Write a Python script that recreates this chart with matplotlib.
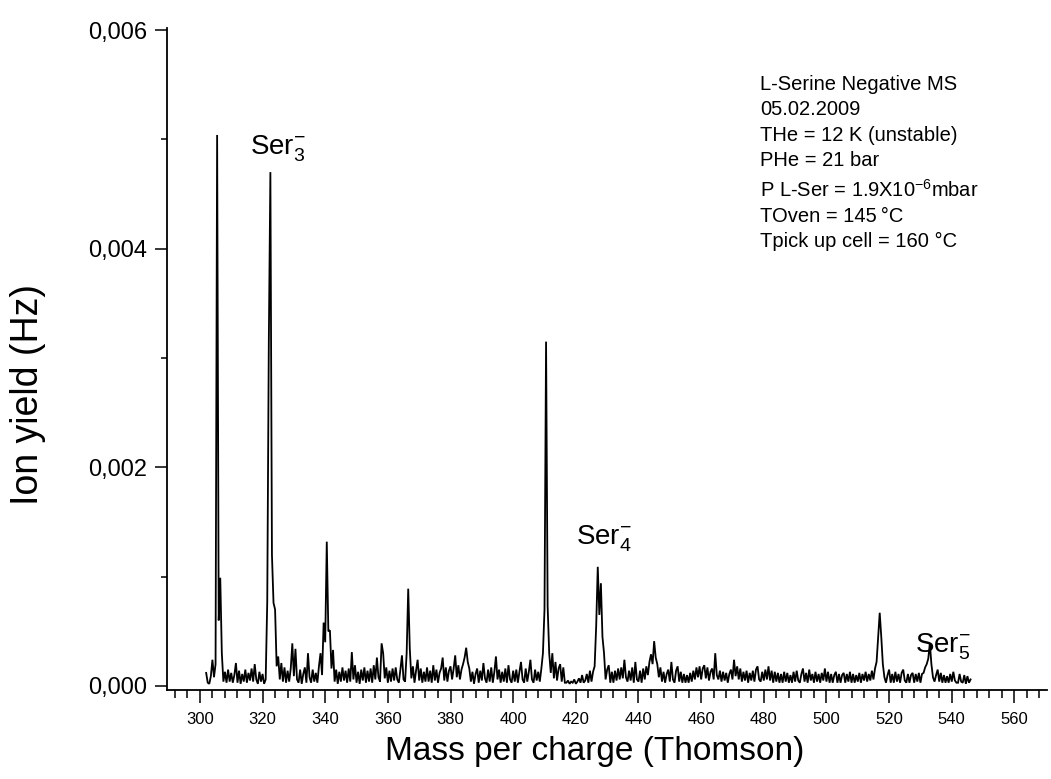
import numpy as np
import matplotlib
matplotlib.use("Agg")
import matplotlib.pyplot as plt
from matplotlib.ticker import MultipleLocator, FuncFormatter

plt.rcParams["font.family"] = ["Liberation Sans", "DejaVu Sans"]
plt.rcParams["mathtext.fontset"] = "custom"
plt.rcParams["mathtext.rm"] = "Liberation Sans"
plt.rcParams["mathtext.it"] = "Liberation Sans:italic"
plt.rcParams["mathtext.bf"] = "Liberation Sans:bold"

# Spectrum sampling: m/z grid start and step (Thomson)
MZ_START = 302.0
MZ_STEP = 0.5
YIELD_UNIT = 1e-4  # values below are in units of 1e-4 Hz

# Ion yield, one row per 5 Th
yield_e4 = [
    1.2, 0.3, 0.2, 0.9, 2.4, 0.8, 2.0, 50.4, 6.0, 9.9,      # 302
    3.0, 0.4, 1.3, 0.3, 1.5, 0.4, 1.2, 0.3, 1.0, 2.1,       # 307
    0.3, 1.4, 0.2, 1.1, 0.4, 1.5, 0.3, 1.2, 0.5, 1.6,       # 312
    0.4, 2.0, 0.6, 0.2, 1.3, 0.4, 1.1, 0.2, 0.6, 7.7,       # 317
    31.5, 47.0, 12.0, 7.6, 7.0, 1.8, 2.7, 0.6, 2.1, 0.4,    # 322
    1.7, 0.3, 1.4, 0.4, 1.6, 3.9, 0.9, 3.4, 0.6, 0.3,       # 327
    1.5, 0.2, 1.1, 1.7, 0.3, 3.0, 0.8, 0.3, 1.5, 0.4,       # 332
    1.2, 0.3, 1.8, 3.0, 1.0, 5.8, 4.0, 13.2, 5.0, 5.1,      # 337
    1.6, 3.3, 0.4, 1.5, 0.2, 1.3, 0.4, 1.7, 0.5, 1.4,       # 342
    0.3, 1.6, 0.4, 3.1, 0.6, 1.9, 0.3, 1.3, 0.2, 1.5,       # 347
    0.5, 1.7, 0.3, 1.4, 0.4, 1.6, 0.3, 1.9, 0.6, 2.6,       # 352
    0.8, 0.4, 3.9, 3.0, 0.7, 1.7, 0.3, 1.4, 0.4, 1.6,       # 357
    0.5, 1.7, 0.6, 0.3, 1.5, 2.8, 0.6, 0.4, 3.0, 8.9,       # 362
    3.4, 0.7, 1.8, 0.3, 1.4, 2.4, 0.5, 1.6, 0.3, 1.3,       # 367
    0.4, 1.7, 0.4, 1.4, 0.3, 1.9, 0.5, 1.5, 0.3, 1.2,       # 372
    1.6, 2.6, 0.5, 1.7, 0.4, 1.4, 1.8, 0.6, 1.6, 2.8,       # 377
    0.8, 1.9, 0.6, 1.5, 2.0, 2.6, 3.5, 2.2, 1.6, 0.4,       # 382
    1.3, 0.2, 1.1, 1.6, 0.3, 1.4, 0.5, 2.1, 0.7, 0.3,       # 387
    1.5, 0.4, 1.7, 0.3, 1.3, 2.7, 0.6, 1.5, 0.3, 1.3,       # 392
    0.4, 1.6, 0.3, 1.9, 0.6, 0.3, 1.4, 0.4, 1.5, 0.3,       # 397
    1.3, 2.2, 0.6, 0.3, 1.6, 0.4, 1.3, 2.4, 0.6, 0.3,       # 402
    1.5, 0.5, 1.3, 0.4, 1.6, 3.0, 7.0, 31.5, 7.3, 3.0,      # 407
    1.2, 3.0, 0.7, 2.2, 0.5, 1.6, 2.0, 0.4, 1.7, 0.3,       # 412
    0.3, 0.5, 0.2, 0.4, 0.3, 0.6, 0.2, 0.4, 0.7, 0.3,       # 417
    1.0, 0.3, 0.5, 1.1, 0.3, 1.4, 0.4, 1.3, 1.8, 5.5,       # 422
    10.9, 6.5, 9.4, 4.5, 3.0, 0.6, 1.5, 1.9, 0.3, 1.3,      # 427
    0.3, 1.4, 0.5, 1.6, 0.6, 1.7, 0.7, 2.4, 0.8, 0.4,       # 432
    1.4, 0.5, 1.7, 0.3, 2.2, 0.6, 0.4, 1.4, 0.3, 1.6,       # 437
    0.6, 1.8, 1.0, 2.2, 2.9, 2.0, 4.1, 2.6, 2.0, 0.8,       # 442
    1.7, 0.4, 1.3, 0.3, 1.1, 1.5, 0.4, 2.2, 0.6, 0.3,       # 447
    1.4, 1.8, 0.4, 1.3, 0.3, 1.1, 0.3, 1.0, 0.3, 1.2,       # 452
    0.4, 1.4, 0.6, 1.7, 0.8, 1.8, 0.6, 1.6, 1.9, 0.7,       # 457
    1.7, 0.5, 1.3, 1.6, 0.6, 3.0, 1.0, 0.6, 1.4, 0.4,       # 462
    1.3, 0.5, 1.2, 0.3, 1.1, 1.5, 0.6, 2.4, 0.9, 1.8,       # 467
    0.6, 1.6, 0.4, 1.3, 0.5, 1.4, 0.3, 1.2, 0.5, 1.4,       # 472
    0.4, 1.5, 1.8, 0.6, 0.4, 1.3, 0.5, 1.5, 0.6, 1.8,       # 477
    0.5, 1.4, 0.3, 1.3, 0.4, 1.2, 0.3, 1.1, 0.3, 1.3,       # 482
    0.4, 1.2, 0.3, 1.0, 0.3, 1.3, 0.4, 1.4, 0.5, 0.3,       # 487
    1.1, 1.6, 0.4, 1.2, 0.3, 1.5, 0.5, 1.1, 0.3, 1.3,       # 492
    0.4, 1.1, 0.3, 1.2, 0.5, 1.6, 0.4, 1.3, 0.3, 1.1,       # 497
    0.3, 1.0, 1.3, 0.3, 1.1, 0.3, 1.0, 1.2, 0.3, 1.1,       # 502
    0.4, 1.3, 0.3, 1.1, 0.3, 1.0, 0.4, 1.2, 0.3, 1.1,       # 507
    0.5, 1.3, 0.4, 1.1, 0.5, 1.4, 0.6, 1.6, 2.2, 4.5,       # 512
    6.7, 4.5, 2.0, 0.8, 0.3, 1.0, 1.5, 0.3, 1.1, 0.3,       # 517
    1.3, 0.4, 1.1, 0.3, 1.2, 1.5, 0.5, 0.3, 1.1, 0.3,       # 522
    1.0, 1.2, 0.3, 1.1, 0.4, 1.2, 0.3, 1.1, 1.2, 1.7,       # 527
    2.0, 2.5, 3.9, 2.0, 0.8, 0.4, 1.0, 1.5, 0.4, 1.2,       # 532
    0.3, 1.0, 0.3, 0.9, 0.3, 1.1, 0.4, 1.3, 0.5, 0.3,       # 537
    0.3, 1.1, 0.4, 0.3, 1.0, 0.2, 0.9, 0.3, 0.6,            # 542
]

# Cluster labels: (text, m/z, yield)
cluster_labels = [
    (r"Ser$_{3}^{-}$", 316.0, 0.00486),
    (r"Ser$_{4}^{-}$", 420.0, 0.00129),
    (r"Ser$_{5}^{-}$", 528.3, 0.00031),
]

info_lines = [
    "L-Serine Negative MS",
    "05.02.2009",
    "THe = 12 K (unstable)",
    "PHe = 21 bar",
    r"P L-Ser = 1.9X10$^{-6}$mbar",
    "TOven = 145\u2009\u00b0C",
    "Tpick up cell = 160 \u00b0C",
]

yvals = np.array(yield_e4) * YIELD_UNIT
mz = MZ_START + MZ_STEP * np.arange(len(yvals))

fig = plt.figure(figsize=(10.51, 7.79), dpi=100)
ax = fig.add_axes([167 / 1051, 89 / 779, 880 / 1051, 662 / 779])

ax.plot(mz, yvals, color="black", lw=1.3, solid_joinstyle="miter")

ax.set_xlim(289.5, 570.4)
ax.set_ylim(-0.0000366, 0.0060183)

ax.spines["top"].set_visible(False)
ax.spines["right"].set_visible(False)
for s in ("left", "bottom"):
    ax.spines[s].set_linewidth(1.3)

ax.xaxis.set_major_locator(MultipleLocator(20))
ax.xaxis.set_minor_locator(MultipleLocator(4))
ax.yaxis.set_major_locator(MultipleLocator(0.002))
ax.yaxis.set_minor_locator(MultipleLocator(0.001))
ax.yaxis.set_major_formatter(FuncFormatter(lambda v, p: f"{v:.3f}".replace(".", ",")))

ax.tick_params(axis="x", which="major", direction="out", length=9.5, width=1.1,
               labelsize=12, pad=6)
ax.tick_params(axis="x", which="minor", direction="out", length=5.5, width=1.1)
ax.tick_params(axis="y", which="major", direction="out", length=9, width=1.1,
               labelsize=17, pad=5)
ax.tick_params(axis="y", which="minor", direction="out", length=4.5, width=1.1)

ax.set_xlabel("Mass per charge (Thomson)", fontsize=24)
ax.xaxis.set_label_coords(0.486, -0.069)
ax.set_ylabel("Ion yield (Hz)", fontsize=27)
ax.yaxis.set_label_coords(-0.137, 0.446)

for text, x, y in cluster_labels:
    ax.text(x, y, text, fontsize=20, ha="left", va="baseline")

# Measurement conditions, one line at a time (baselines in pixels from the top)
baselines_px = [90, 115, 141, 166, 197, 222, 247]
for line, ypx in zip(info_lines, baselines_px):
    fig.text(760 / 1051, 1 - ypx / 779, line, fontsize=14.5, ha="left", va="baseline")

fig.savefig("out.png", dpi=100)
